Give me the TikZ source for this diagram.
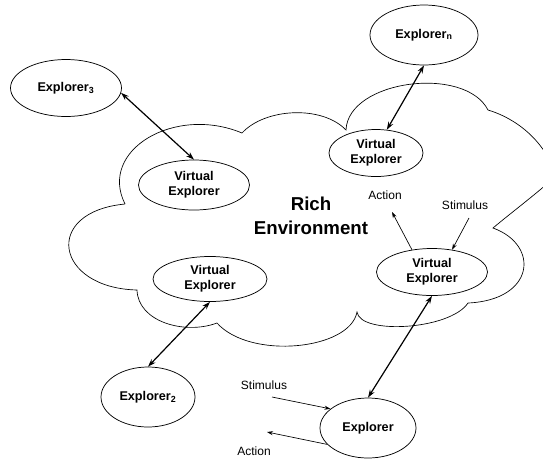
\documentclass[tikz,border=0pt]{standalone}
\usepackage{fontspec}
\setmainfont{Liberation Sans}
\usetikzlibrary{shapes.geometric,arrows.meta}
\begin{document}
\begin{tikzpicture}[x=0.75pt,y=-0.75pt,
  ell/.style={draw, ellipse, inner sep=0pt, align=center, line width=0.55pt,
    font=\bfseries\fontsize{9.5}{11.2}\selectfont},
  sz/.style 2 args={minimum width=#1*0.75pt, minimum height=#2*0.75pt},
  dbl/.style={{Stealth[length=6pt,width=4pt]}-{Stealth[length=6pt,width=4pt]}, line width=0.9pt},
  sgl/.style={-{Stealth[length=4.5pt,width=3pt]}, line width=0.5pt},
  lbl/.style={inner sep=1pt, font=\fontsize{9}{11}\selectfont},
  cloudline/.style={line width=0.5pt}
]
\useasboundingbox (0,0) rectangle (543,458);
% cloud
\draw[cloudline] (125,204) .. controls (98,150) and (175,105) .. (242,133)
 .. controls (265,108) and (322,105) .. (346,130)
 .. controls (348,80) and (465,65) .. (488,110)
 .. controls (515,118) and (545,140) .. (556,176)
 .. controls (535,195) and (512,212) .. (493,228)
 .. controls (540,245) and (535,300) .. (468,303)
 .. controls (450,330) and (360,335) .. (357,312)
 .. controls (350,350) and (250,360) .. (217,323)
 .. controls (185,335) and (138,322) .. (137,290)
 .. controls (55,288) and (42,212) .. (125,204);
\node[font=\bfseries\fontsize{14}{18}\selectfont, align=center] (rich) at (311,216) {Rich\\Environment};
% nodes
\node[ell, sz={108}{60}] (en) at (424,35) {Explorer\textsubscript{n}};
\node[ell, sz={111}{57}] (e3) at (66,88) {Explorer\textsubscript{3}};
\node[ell, sz={94}{47}] (vtr) at (376,153) {Virtual\\Explorer};
\node[ell, sz={111}{50}] (vl) at (194,185) {Virtual\\Explorer};
\node[ell, sz={114}{45}] (vbl) at (210,279) {Virtual\\Explorer};
\node[ell, sz={111}{47}] (vr) at (432,272) {Virtual\\Explorer};
\node[ell, sz={94}{60}] (e2) at (148,397) {Explorer\textsubscript{2}};
\node[ell, sz={96}{60}] (ex) at (368,428) {Explorer};
% labels
\node[lbl] (act1) at (385,195) {Action};
\node[lbl] (stim1) at (465,205) {Stimulus};
\node[lbl] (stim2) at (264,385) {Stimulus};
\node[lbl] (act2) at (254,451) {Action};
\coordinate (a1end) at (392,212);
\coordinate (s1start) at (469,218);
\coordinate (s2start) at (272,397);
\coordinate (a2end) at (267,432);
% connectors
\draw[dbl] (e3.-5) -- (vl.north);
\draw[dbl] (en.south) -- (vtr.65);
\draw[dbl] (vbl.south) -- (e2.north);
\draw[dbl] (vr.south) -- (ex.north);
\draw[sgl] (vr.132) -- (a1end);
\draw[sgl] (s1start) -- (vr.48);
\draw[sgl] (s2start) -- (ex.153);
\draw[sgl] (ex.202) -- (a2end);
\end{tikzpicture}
\end{document}
